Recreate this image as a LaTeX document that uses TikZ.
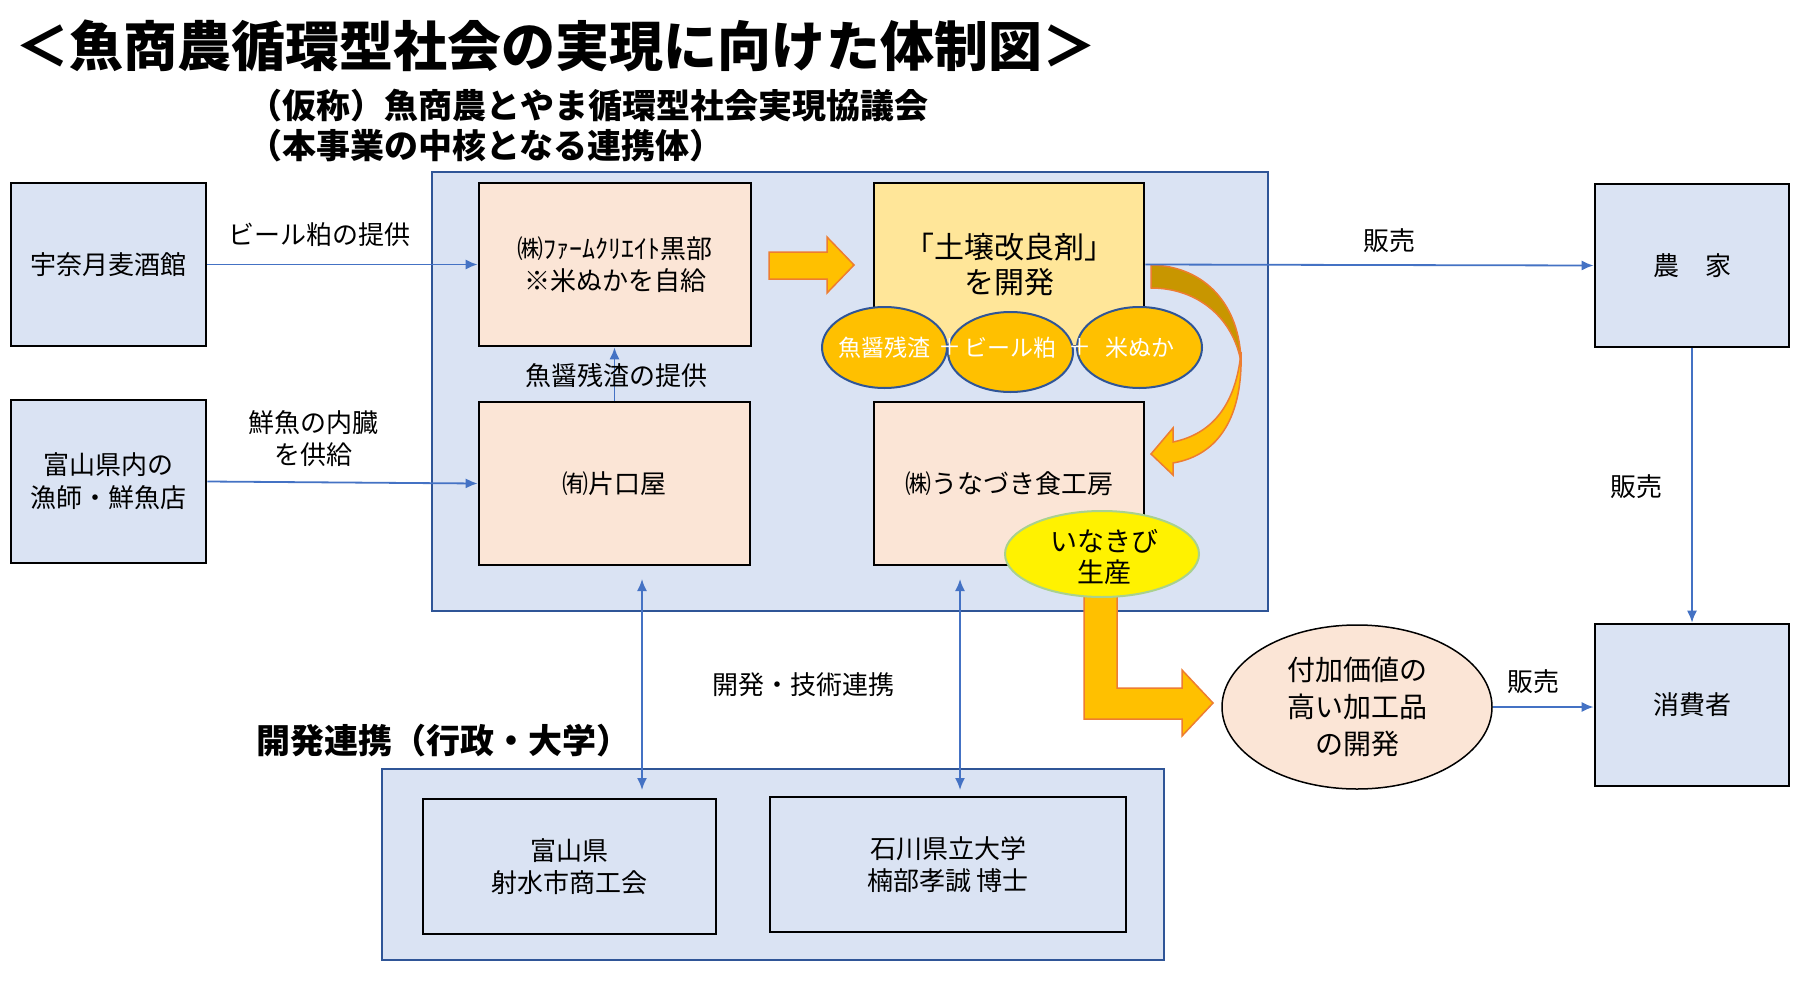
\documentclass[tikz,border=0pt]{standalone}
\usepackage{fontspec}
\setmainfont{Noto Sans CJK JP}
\usetikzlibrary{shapes.geometric,arrows.meta}
\definecolor{boxblue}{HTML}{DAE3F3}
\definecolor{grpline}{HTML}{2F5597}
\definecolor{connblue}{HTML}{4472C4}
\definecolor{pinkfill}{HTML}{FBE5D6}
\definecolor{soilfill}{HTML}{FFE699}
\definecolor{goldfill}{HTML}{FFC000}
\definecolor{darkgold}{HTML}{C89600}
\definecolor{orangeline}{HTML}{ED7D31}
\definecolor{greenline}{HTML}{A9D18E}
\newcommand\fsz[2]{\fontsize{#1}{#2}\selectfont}
\tikzset{
  grp/.style={draw=grpline, line width=2pt, fill=boxblue, inner sep=0pt},
  bluebox/.style={draw=black, line width=2.6pt, fill=boxblue, inner sep=0pt, align=center, font=\fsz{26}{33}},
  pinkbox/.style={draw=black, line width=2.6pt, fill=pinkfill, inner sep=0pt, align=center, font=\fsz{26}{32}},
  soilbox/.style={draw=black, line width=2.6pt, fill=soilfill, inner sep=0pt, align=center, font=\fsz{30}{35}},
  circ/.style={ellipse, draw=grpline, line width=2pt, fill=goldfill, inner sep=0pt},
  ctext/.style={text=white, font=\fsz{23}{28}, inner sep=0pt},
  conn/.style={draw=connblue, line width=1.8pt, -{Latex[length=12pt,width=10pt]}},
  dconn/.style={draw=connblue, line width=1.8pt, {Latex[length=12pt,width=10pt]}-{Latex[length=12pt,width=10pt]}},
  lbl/.style={font=\fsz{26}{32}, align=center, inner sep=0pt},
  blockarrow/.style={fill=goldfill, draw=orangeline, line width=1.5pt, line join=miter},
  heading/.style={font=\bfseries\fsz{34}{40}, anchor=west, inner sep=0pt},
}
\begin{document}
\begin{tikzpicture}[x=1pt,y=-1pt]
\useasboundingbox (0,0) rectangle (1807,982);
\fill[white] (0,0) rectangle (1807,982);

% titles
\node[font=\bfseries\fsz{54}{62}, inner sep=0pt] (title) at (556,46) {＜魚商農循環型社会の実現に向けた体制図＞};
\node[heading] (sub1) at (248,106) {（仮称）魚商農とやま循環型社会実現協議会};
\node[heading] (sub2) at (248,146) {（本事業の中核となる連携体）};
\node[heading] (devtitle) at (256,741) {開発連携（行政・大学）};

% council container
\node[grp, minimum width=836pt, minimum height=439pt] (council) at (850,391.5) {};

% left external boxes
\node[bluebox, minimum width=195pt, minimum height=163pt] (brew) at (108.5,264.5) {宇奈月麦酒館};
\node[bluebox, minimum width=195pt, minimum height=163pt] (fisher) at (108.5,481.5) {富山県内の\\漁師・鮮魚店};

% inner boxes
\node[pinkbox, minimum width=272pt, minimum height=163pt] (farm) at (615,264.5) {㈱ﾌｧｰﾑｸﾘｴｲﾄ黒部\\※米ぬかを自給};
\node[pinkbox, minimum width=271pt, minimum height=163pt] (kata) at (614.5,483.5) {㈲片口屋};
\node[soilbox, minimum width=270pt, minimum height=163pt] (soil) at (1009,264.5) {「土壌改良剤」\\を開発};
\node[pinkbox, minimum width=270pt, minimum height=163pt] (unazuki) at (1009,483.5) {㈱うなづき食工房};

% ingredient circles
\node[circ, minimum width=125pt, minimum height=81pt] (c1) at (884.5,347.5) {};
\node[circ, minimum width=125pt, minimum height=80pt] (c2) at (1010.5,352) {};
\node[circ, minimum width=125pt, minimum height=81pt] (c3) at (1139.5,347.5) {};
\node[ctext] (t1) at (c1) {魚醤残渣};
\node[ctext] (t2) at (c2.center |- c1.center) {ビール粕};
\node[ctext] (t3) at (c3) {米ぬか};
\node[ctext] (p1) at (950,347) {＋};
\node[ctext] (p2) at (1080,347) {＋};

% straight block arrow farm -> soil
\path[blockarrow] (769,252) -- (827,252) -- (827,237) -- (854,265) -- (827,293) -- (827,279) -- (769,279) -- cycle;

% curved arrow soil -> unazuki
\path[fill=darkgold, draw=orangeline, line width=1.5pt] (1151,265) .. controls (1205,266) and (1240,305) .. (1241,362) .. controls (1233,318) and (1198,288) .. (1151,288) -- cycle;
\path[fill=goldfill, draw=orangeline, line width=1.5pt, line join=miter] (1241,352) .. controls (1243,415) and (1220,455) .. (1173,463) -- (1173,475) -- (1151,454) -- (1173,428) -- (1173,442) .. controls (1212,434) and (1236,405) .. (1241,352) -- cycle;

% L-shaped arrow to added-value ellipse
\path[blockarrow] (1084,590) -- (1117,590) -- (1117,688) -- (1182,688) -- (1182,670) -- (1213,703) -- (1182,736) -- (1182,719) -- (1084,719) -- cycle;

% inakibi ellipse
\node[ellipse, draw=greenline, line width=2pt, fill=yellow, minimum width=194pt, minimum height=86pt, inner sep=0pt] (inaki) at (1102,554) {};
\node[lbl, font=\fsz{27}{31}] (inakit) at (1104,557) {いなきび\\生産};

% added value ellipse
\node[ellipse, draw=black, line width=1.5pt, fill=pinkfill, minimum width=270pt, minimum height=164pt, inner sep=0pt, align=center, font=\fsz{28}{37}] (added) at (1357,707) {付加価値の\\高い加工品\\の開発};

% right boxes
\node[bluebox, minimum width=194pt, minimum height=163pt] (farmer) at (1692,265.5) {農　家};
\node[bluebox, minimum width=194pt, minimum height=162pt] (consumer) at (1692,705) {消費者};

% development group
\node[grp, minimum width=782pt, minimum height=191pt] (dev) at (773,864.5) {};
\node[bluebox, minimum width=293pt, minimum height=135pt, font=\fsz{26}{32}] (toyama) at (569.5,866.5) {富山県\\射水市商工会};
\node[bluebox, minimum width=356pt, minimum height=135pt, font=\fsz{26}{32}] (ishikawa) at (948,864.5) {石川県立大学\\楠部孝誠 博士};

% connectors
\draw[conn] (brew.east) -- (farm.west);
\draw[conn] (fisher.east) -- (kata.west);
\draw[conn] (kata.north) -- (kata.north |- farm.south);
\draw[conn] (soil.east) -- (farmer.west);
\draw[conn] (farmer.south) -- (consumer.north);
\draw[conn] (added.east) -- (added.east -| consumer.west);
\coordinate (v1t) at (642,579);
\coordinate (v1b) at (642,790);
\coordinate (v2t) at (960,579);
\coordinate (v2b) at (960,790);
\draw[dconn] (v1t) -- (v1b);
\draw[dconn] (v2t) -- (v2b);

% labels
\node[lbl] (l1) at (319,235) {ビール粕の提供};
\node[lbl] (l2) at (313,439) {鮮魚の内臓\\を供給};
\node[lbl] (l3) at (616,376) {魚醤残渣の提供};
\node[lbl] (l4) at (1389,241) {販売};
\node[lbl] (l5) at (1636,487) {販売};
\node[lbl] (l6) at (1533,682) {販売};
\node[lbl] (l7) at (803,685) {開発・技術連携};
\end{tikzpicture}
\end{document}
